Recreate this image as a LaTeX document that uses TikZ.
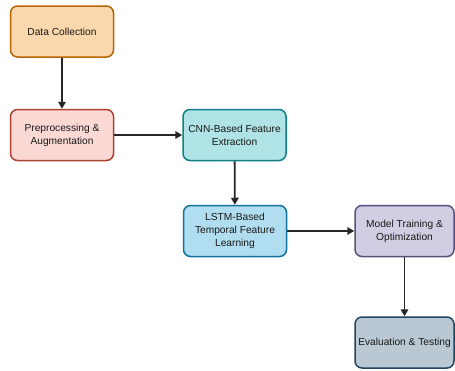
\documentclass[tikz,border=0pt]{standalone}
\usepackage{fontspec}
\setmainfont{Liberation Sans}
\usetikzlibrary{arrows.meta}
\definecolor{fOr}{HTML}{FAD7AC}\definecolor{sOr}{HTML}{B46504}
\definecolor{fRe}{HTML}{FAD9D5}\definecolor{sRe}{HTML}{AE4132}
\definecolor{fTe}{HTML}{B0E3E6}\definecolor{sTe}{HTML}{0E8088}
\definecolor{fBl}{HTML}{B1DDF0}\definecolor{sBl}{HTML}{10739E}
\definecolor{fPu}{HTML}{D0CEE2}\definecolor{sPu}{HTML}{56517E}
\definecolor{fGr}{HTML}{BAC8D3}\definecolor{sGr}{HTML}{23445D}
\tikzset{
  box/.style={draw, line width=1.5pt, rounded corners=7pt, minimum width=103pt, minimum height=51pt,
    align=center, inner sep=2pt, font=\fontsize{10.2}{13}\selectfont, text=black!90},
  conn/.style={draw=black!85, line width=1.8pt, -{Triangle[length=7pt,width=7.5pt]}}
}
\begin{document}
\begin{tikzpicture}[x=1pt,y=-1pt]
\useasboundingbox (0,0) rectangle (455,370);
\node[box, fill=fOr, draw=sOr] (dc) at (62,31.5) {Data Collection};
\node[box, fill=fRe, draw=sRe] (pp) at (62,135) {Preprocessing \&\\Augmentation};
\node[box, fill=fTe, draw=sTe] (cnn) at (234.5,135) {CNN-Based Feature\\Extraction};
\node[box, fill=fBl, draw=sBl] (lstm) at (235,231) {LSTM-Based\\Temporal Feature\\Learning};
\node[box, fill=fPu, draw=sPu, minimum width=99pt] (mt) at (404.5,231) {Model Training \&\\Optimization};
\node[box, fill=fGr, draw=sGr, minimum width=99pt] (ev) at (404.5,342.5) {Evaluation \& Testing};
\draw[conn] (dc) -- (pp);
\draw[conn] (pp) -- (cnn);
\draw[conn] (cnn) -- (lstm);
\draw[conn] (lstm) -- (mt);
\draw[conn] (mt) -- (ev);
\end{tikzpicture}
\end{document}
